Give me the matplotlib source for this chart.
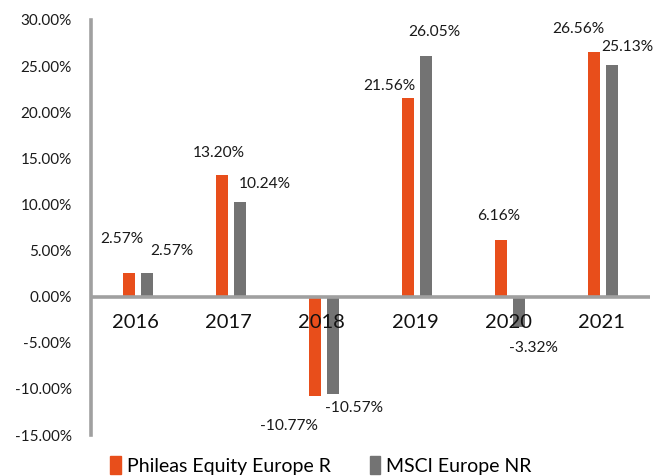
import matplotlib
matplotlib.use("Agg")
import matplotlib.pyplot as plt
from matplotlib.patches import Patch

years = ["2016", "2017", "2018", "2019", "2020", "2021"]
phileas = [2.57, 13.20, -10.77, 21.56, 6.16, 26.56]
msci = [2.57, 10.24, -10.57, 26.05, -3.32, 25.13]
series_names = ["Phileas Equity Europe R", "MSCI Europe NR"]
yticks = [-15, -10, -5, 0, 5, 10, 15, 20, 25, 30]

# label offsets in pixels (dx, dy) relative to bar end
off_ph = [(-7, 34), (-3, 22), (-26, -30), (-19, 12), (-2, 24), (-16, 23)]
off_ms = [(25, 22), (25, 18), (21, -14), (8, 24), (14, -21), (15, 18)]

ORANGE = "#E84E1B"
GRAY = "#737373"
AXIS = "#A0A0A0"
FONT = ["Lato", "DejaVu Sans"]

fig = plt.figure(figsize=(6.55, 4.76), dpi=100)
ax = fig.add_axes([0.139, 0.0861, 0.853, 0.872])

x = list(range(len(years)))
w = 0.13
d = 0.097
ax.bar([i - d for i in x], phileas, width=w, color=ORANGE, zorder=2)
ax.bar([i + d for i in x], msci, width=w, color=GRAY, zorder=2)

ax.set_xlim(-0.5, 5.5)
ax.set_ylim(-15, 30)
ax.axhline(0, color=AXIS, lw=2.6, zorder=3)

for s in ["top", "right", "bottom"]:
    ax.spines[s].set_visible(False)
ax.spines["left"].set_color(AXIS)
ax.spines["left"].set_linewidth(2.6)

ax.set_xticks([])
ax.set_yticks(yticks)
ax.set_yticklabels([f"{v:.2f}%" for v in yticks], fontfamily=FONT, fontsize=11, color="#1a1a1a")
ax.tick_params(axis="y", length=0, pad=14)

pt = 0.72
for i, yr in enumerate(years):
    ax.annotate(yr, xy=(i, 0), xytext=(-2 * pt, -26 * pt), textcoords="offset points",
                ha="center", va="center", fontsize=14.5, family=FONT, color="#111111")

for i in x:
    for vals, offs, dx0 in ((phileas, off_ph, -d), (msci, off_ms, d)):
        v = vals[i]
        ox, oy = offs[i]
        ax.annotate(f"{v:.2f}%", xy=(i + dx0, v), xytext=(ox * pt, oy * pt),
                    textcoords="offset points", ha="center", va="center",
                    fontsize=11.2, family=FONT, color="#1a1a1a")

handles = [Patch(color=ORANGE), Patch(color=GRAY)]
fig.legend(handles, series_names, loc="center", bbox_to_anchor=(0.49, 0.022), ncol=2,
           frameon=False, prop={"family": FONT, "size": 14}, handlelength=0.55,
           handleheight=1.0, handletextpad=0.3, columnspacing=2.0)

fig.savefig("out.png", dpi=100)
